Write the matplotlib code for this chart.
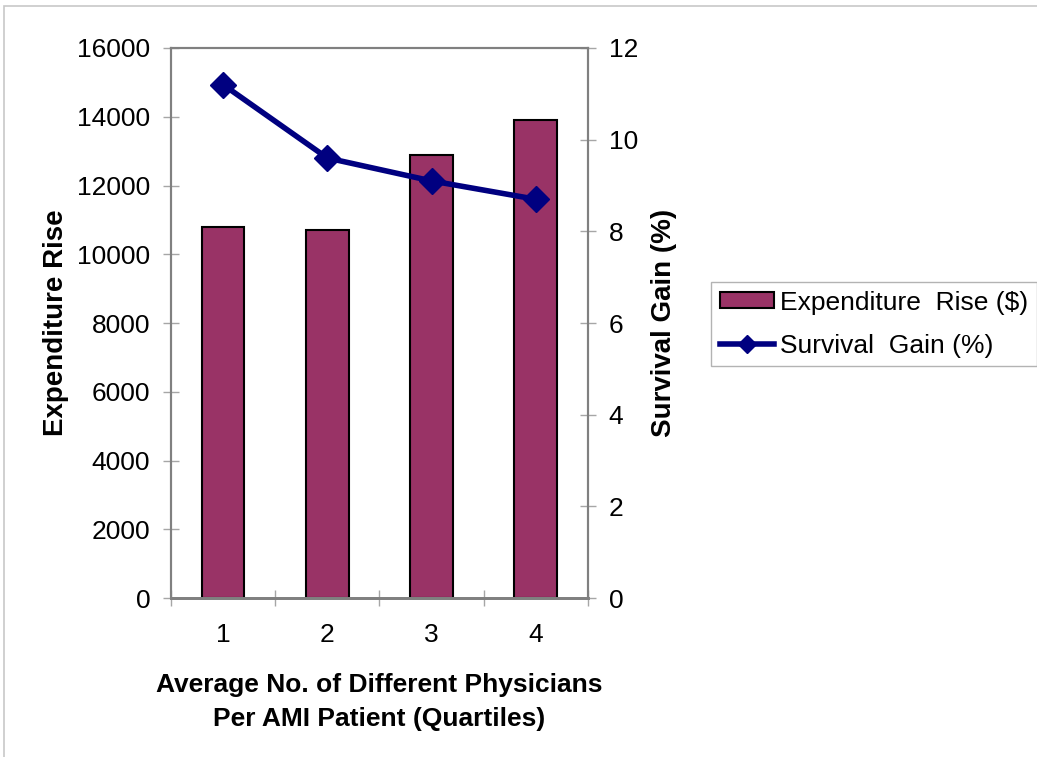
import matplotlib
matplotlib.use("Agg")
import matplotlib.pyplot as plt
from matplotlib.patches import Rectangle
from matplotlib.lines import Line2D
import numpy as np

plt.rcParams['font.family'] = ['Liberation Sans', 'DejaVu Sans']

# Quartiles of average number of different physicians per AMI patient
quartiles = [1, 2, 3, 4]
quartile_labels = ["1", "2", "3", "4"]
expenditure_rise = [10800, 10700, 12900, 13900]   # dollars
survival_gain = [11.2, 9.6, 9.1, 8.7]              # percent

left_ticks = [0, 2000, 4000, 6000, 8000, 10000, 12000, 14000, 16000]
right_ticks = [0, 2, 4, 6, 8, 10, 12]

BAR_COLOR = "#993366"
LINE_COLOR = "#000080"
SPINE_COLOR = "#808080"
TICK_COLOR = "#a6a6a6"
TICK_SIZE = 19

fig = plt.figure(figsize=(10.37, 7.57), dpi=100)
ax = fig.add_axes([0.1649, 0.210, 0.402, 0.7266])
ax2 = ax.twinx()

ax.bar(quartiles, expenditure_rise, width=0.41, color=BAR_COLOR,
       edgecolor="black", linewidth=1.5, zorder=2)
ax2.plot(quartiles, survival_gain, color=LINE_COLOR, linewidth=4.0,
         marker="D", markersize=13, markerfacecolor=LINE_COLOR,
         markeredgecolor=LINE_COLOR, zorder=3)

ax.set_xlim(0.5, 4.5)
ax.set_ylim(0, 16000)
ax2.set_ylim(0, 12)

ax.set_yticks(left_ticks)
ax.set_yticklabels([str(v) for v in left_ticks])
ax2.set_yticks(right_ticks)
ax2.set_yticklabels([str(v) for v in right_ticks])

ax.set_xticks(quartiles)
ax.set_xticklabels(quartile_labels)
ax.set_xticks(np.arange(0.5, 5.0, 1.0), minor=True)

ax.tick_params(axis="x", which="major", length=0, pad=18, labelsize=TICK_SIZE)
ax.tick_params(axis="x", which="minor", direction="inout", length=12,
               width=1.0, color=TICK_COLOR)
ax.tick_params(axis="y", direction="inout", length=12, width=1.0,
               color=TICK_COLOR, pad=9, labelsize=TICK_SIZE)
ax2.tick_params(axis="y", direction="inout", length=12, width=1.0,
                color=TICK_COLOR, pad=9, labelsize=TICK_SIZE)

for a in (ax, ax2):
    for side in ("top", "right", "left"):
        a.spines[side].set_color(SPINE_COLOR)
        a.spines[side].set_linewidth(1.5)
    a.spines["bottom"].set_color(SPINE_COLOR)
    a.spines["bottom"].set_linewidth(2.0)

ax.set_ylabel("Expenditure Rise", fontsize=20, fontweight="bold", labelpad=6)
ax2.set_ylabel("Survival Gain (%)", fontsize=20, fontweight="bold", labelpad=9)
ax.set_xlabel("Average No. of Different Physicians\nPer AMI Patient (Quartiles)",
              fontsize=19, fontweight="bold", labelpad=19, linespacing=1.52)

handles = [
    Rectangle((0, 0), 1, 1, facecolor=BAR_COLOR, edgecolor="black", linewidth=1.5),
    Line2D([0], [0], color=LINE_COLOR, linewidth=4.0, marker="D",
           markersize=9, markerfacecolor=LINE_COLOR, markeredgecolor=LINE_COLOR),
]
leg = fig.legend(handles, ["Expenditure  Rise ($)", "Survival  Gain (%)"],
                 loc="upper left", bbox_to_anchor=(0.6856, 0.6275),
                 fontsize=19, frameon=True, fancybox=False, edgecolor="#a0a0a0",
                 handlelength=2.05, handleheight=0.55, handletextpad=0.25,
                 labelspacing=0.72, borderpad=0.33, borderaxespad=0)
leg.get_frame().set_linewidth(1.0)

# light outer frame around the whole chart
fig.patches.append(Rectangle((4 / 1037, -0.1), 1.2, 0.1 + (757 - 6) / 757,
                             transform=fig.transFigure, fill=False,
                             edgecolor="#c8c8c8", linewidth=1.2))

fig.savefig("out.png", dpi=100)
